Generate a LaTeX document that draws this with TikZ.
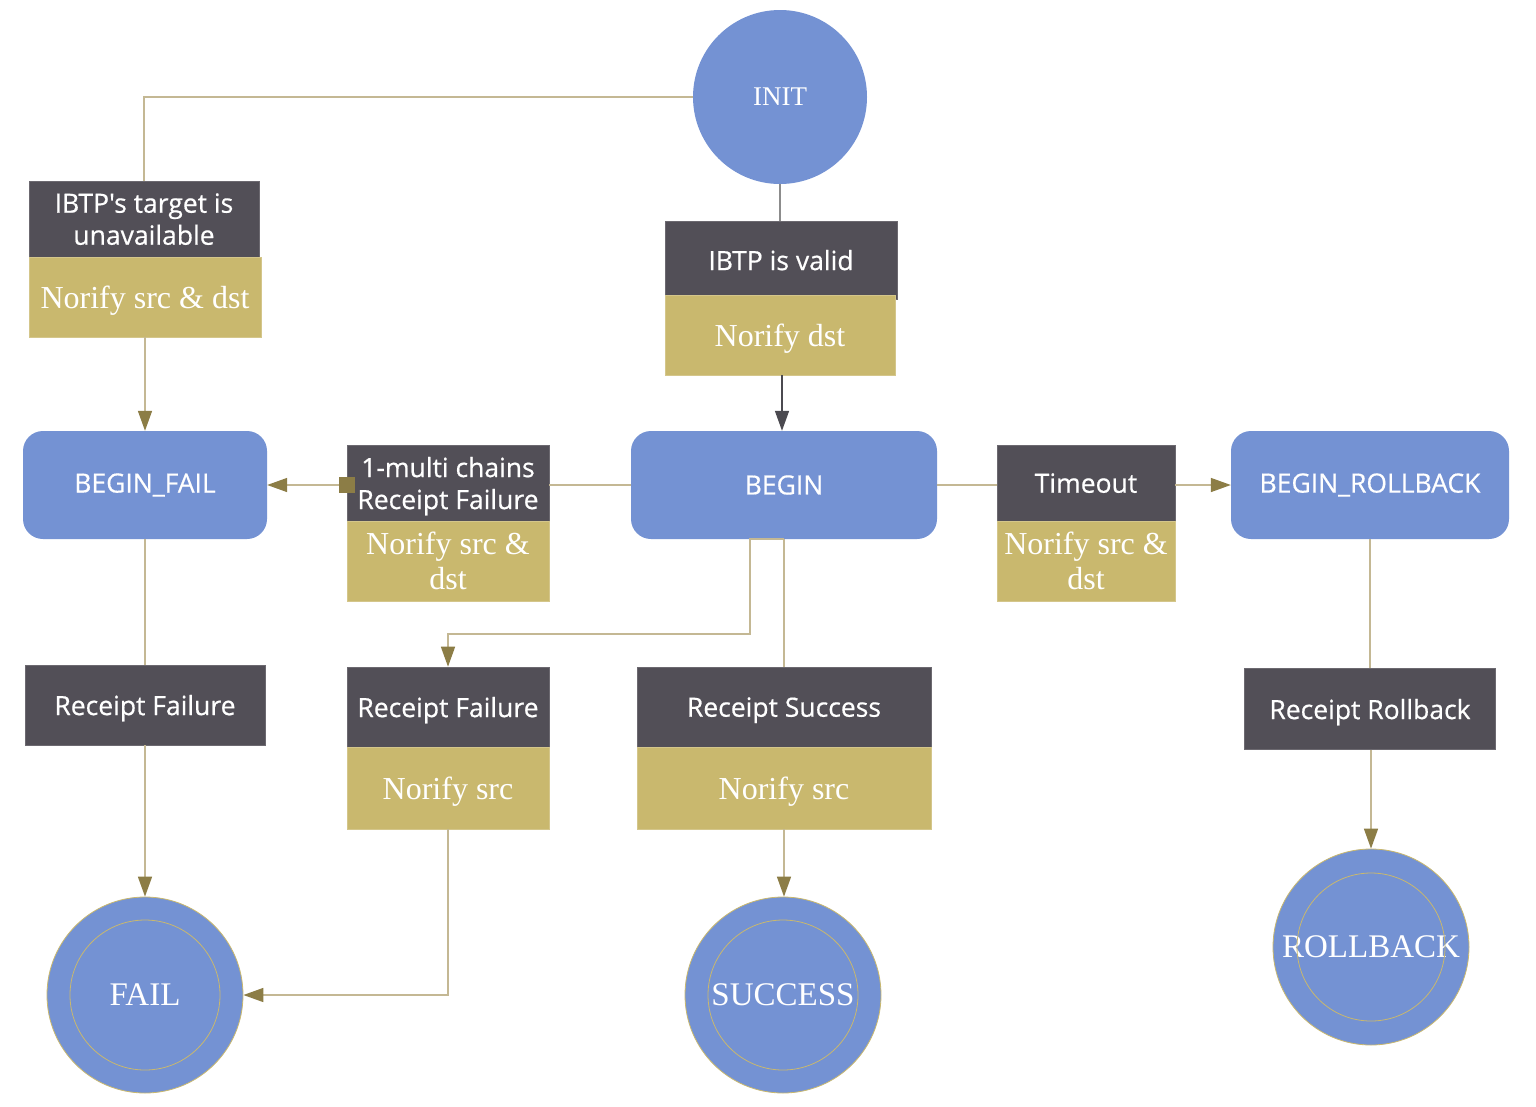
\documentclass[tikz,border=0pt]{standalone}
\usepackage{fontspec}
\setmainfont{Liberation Serif}
\newfontfamily\sansf[FakeBold=0.5]{Open Sans}
\usetikzlibrary{arrows.meta}
\definecolor{nodeblue}{RGB}{116,146,211}
\definecolor{darkfill}{RGB}{82,79,87}
\definecolor{goldfill}{RGB}{201,184,110}
\definecolor{linetan}{RGB}{196,184,148}
\definecolor{tipolive}{RGB}{140,125,70}
\definecolor{linegray}{RGB}{140,140,140}
\definecolor{tipdark}{RGB}{75,74,80}
\tikzset{
  dbox/.style={rectangle, fill=darkfill, draw=darkfill!85!white, line width=0.6pt, text=white, inner sep=0pt, align=center, text depth=0pt, font=\sansf\fontsize{26.5}{32}\selectfont},
  gbox/.style={rectangle, fill=goldfill, draw=goldfill!80!white, line width=0.6pt, text=white, inner sep=0pt, align=center, text depth=0pt, font=\fontsize{32}{35}\selectfont},
  rbox/.style={rectangle, rounded corners=20pt, fill=nodeblue, text=white, inner sep=0pt, minimum height=108pt, font=\sansf\fontsize{26.5}{32}\selectfont},
  endstate/.style={circle, fill=nodeblue, draw=goldfill, line width=0.8pt, text=white, inner sep=0pt, minimum size=196pt, font=\fontsize{33}{36}\selectfont},
  conn/.style={draw=linetan, line width=1.5pt},
  arr/.style={conn, -{Triangle[length=20pt,width=14pt,color=tipolive]}},
}
\begin{document}
\begin{tikzpicture}[x=1pt,y=-1pt]
\useasboundingbox (0,0) rectangle (1536,1106);
\fill[white] (0,0) rectangle (1536,1106);

% states
\node[circle, fill=nodeblue, inner sep=0pt, minimum size=174pt, text=white, font=\fontsize{27}{30}\selectfont] (init) at (780,97) {INIT};
\node[rbox, minimum width=244pt] (bfail) at (145,485) {BEGIN\_FAIL};
\node[rbox, minimum width=306pt] (begin) at (784,485) {BEGIN};
\node[rbox, minimum width=278pt] (brb) at (1370,485) {BEGIN\_ROLLBACK};
\node[endstate] (fail) at (145,995) {FAIL};
\node[endstate] (success) at (783,995) {SUCCESS};
\node[endstate] (rollback) at (1371,947) {ROLLBACK};
\draw[goldfill, line width=0.8pt] (fail.center) circle (75pt);
\draw[goldfill, line width=0.8pt] (success.center) circle (75pt);
\draw[goldfill, line width=0.8pt] (rollback.center) circle (74pt);

% transition labels
\node[dbox, minimum width=230pt, minimum height=76pt] (tgtD) at (144,219) {IBTP's target is\\unavailable};
\node[gbox, minimum width=232pt, minimum height=80pt] (tgtG) at (145,297) {Norify src \& dst};

\node[dbox, minimum width=232pt, minimum height=78pt] (validD) at (781,260) {IBTP is valid};
\node[gbox, minimum width=230pt, minimum height=80pt] (validG) at (780,335) {Norify dst};

\node[dbox, minimum width=202pt, minimum height=76pt] (multiD) at (448,483) {1-multi chains\\Receipt Failure};
\node[gbox, minimum width=202pt, minimum height=80pt] (multiG) at (448,561) {Norify src \&\\dst};

\node[dbox, minimum width=178pt, minimum height=76pt] (toD) at (1086,483) {Timeout};
\node[gbox, minimum width=178pt, minimum height=80pt] (toG) at (1086,561) {Norify src \&\\dst};

\node[dbox, minimum width=240pt, minimum height=80pt] (rfL) at (145,705) {Receipt Failure};

\node[dbox, minimum width=202pt, minimum height=80pt] (rfM) at (448,707) {Receipt Failure};
\node[gbox, minimum width=202pt, minimum height=82pt] (rfMG) at (448,788) {Norify src};

\node[dbox, minimum width=294pt, minimum height=80pt] (rsD) at (784,707) {Receipt Success};
\node[gbox, minimum width=294pt, minimum height=82pt] (rsG) at (784,788) {Norify src};

\node[dbox, minimum width=251pt, minimum height=81pt] (rrb) at (1370,709) {Receipt Rollback};

% connectors
\draw[conn] (init.west) -| (tgtD.north);
\draw[arr] (tgtG.south) -- (tgtG.south |- bfail.north);

\draw[draw=linegray, line width=1.5pt] (init.south) -- (init.south |- validD.north);
\draw[draw=tipdark, line width=1.5pt, -{Triangle[length=20pt,width=14pt,color=tipdark]}] ([xshift=2pt]validG.south) -- ([xshift=2pt]validG.south |- begin.north);

\draw[conn] (begin.west) -- (begin.west -| multiD.east);
\draw[conn, {Square[length=16pt,width=16pt,color=tipolive]}-{Triangle[length=20pt,width=14pt,color=tipolive]}] ([xshift=8pt]multiD.west |- bfail.east) -- (bfail.east);

\draw[conn] (begin.east) -- (begin.east -| toD.west);
\draw[arr] (toD.east |- brb.west) -- (brb.west);

\draw[arr] (begin.south) -- ([xshift=-34pt]begin.south) -- ++(0,95) -| (rfM.north);
\draw[conn] (begin.south) -- (rsD.north);

\draw[arr] (rfMG.south) |- (fail.east);
\draw[arr] (rsG.south) -- (rsG.south |- success.north);

\draw[conn] (bfail.south) -- (rfL.north);
\draw[arr] (rfL.south) -- (fail.north);

\draw[conn] (brb.south) -- (brb.south |- rrb.north);
\draw[arr] (rrb.south -| rollback.north) -- (rollback.north);
\end{tikzpicture}
\end{document}
